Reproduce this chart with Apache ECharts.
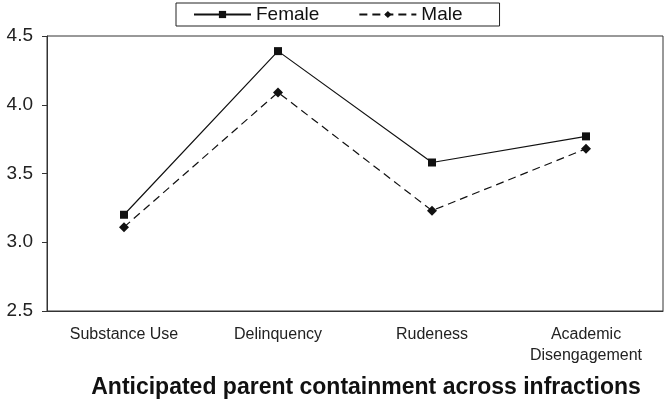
<!DOCTYPE html>
<html>
<head>
	<meta charset="utf-8">
	<title>Anticipated parent containment</title>
	<script src="https://cdn.jsdelivr.net/npm/echarts@6/dist/echarts.min.js"></script>
	<style>
		body { margin:0; background:#fff; }
		#chart { width:667px; height:410px; }
	</style>
</head>
<body>
	<div id="chart"></div>
	<script type="text/javascript">
	// categories and values
	var categories = ['Substance Use', 'Delinquency', 'Rudeness', 'Academic\nDisengagement'];
	var female = [3.2, 4.39, 3.58, 3.77];
	var male = [3.11, 4.09, 3.23, 3.68];
	var yTicks = [2.5, 3.0, 3.5, 4.0, 4.5];

	var font = 'Liberation Sans, Arial, sans-serif';
	var myChart = echarts.init(document.getElementById('chart'));
	myChart.setOption({
		animation: false,
		title: {
			text: 'Anticipated parent containment across infractions',
			left: 361,
			textAlign: 'center',
			top: 371,
			textStyle: { fontFamily: font, fontSize: 23, fontWeight: 'bold', color: '#111' }
		},
		legend: {
			data: ['Female', 'Male'],
			left: 176,
			top: 3,
			itemWidth: 57,
			itemHeight: 9,
			itemGap: 39,
			padding: [2, 37, 2, 17],
			borderColor: '#222',
			borderWidth: 1,
			textStyle: { fontFamily: font, fontSize: 19, color: '#111' }
		},
		grid: {
			left: 47, right: 4, top: 36, bottom: 99,
			show: true,
			borderColor: '#333',
			borderWidth: 1
		},
		xAxis: {
			type: 'category',
			data: categories,
			boundaryGap: true,
			axisLine: { lineStyle: { color: '#333', width: 1 } },
			axisTick: { length: 4, lineStyle: { color: '#333' } },
			axisLabel: { interval: 0, margin: 13, fontFamily: font, fontSize: 16, color: '#222', lineHeight: 21 }
		},
		yAxis: {
			type: 'value',
			min: yTicks[0],
			max: yTicks[yTicks.length - 1],
			interval: 0.5,
			axisLine: { show: true, lineStyle: { color: '#333', width: 1 } },
			axisTick: { show: true, length: 5, lineStyle: { color: '#333' } },
			splitLine: { show: false },
			axisLabel: {
				margin: 14, fontFamily: font, fontSize: 19, color: '#222',
				formatter: function (v) { return v.toFixed(1); }
			}
		},
		series: [{
			name: 'Female',
			type: 'line',
			data: female,
			symbol: 'rect',
			symbolSize: 8,
			itemStyle: { color: '#111' },
			lineStyle: { color: '#111', width: 1.2, type: 'solid' }
		}, {
			name: 'Male',
			type: 'line',
			data: male,
			symbol: 'diamond',
			symbolSize: 10,
			itemStyle: { color: '#111' },
			lineStyle: { color: '#111', width: 1.2, type: [8, 5] }
		}]
	});
	</script>
</body>
</html>
